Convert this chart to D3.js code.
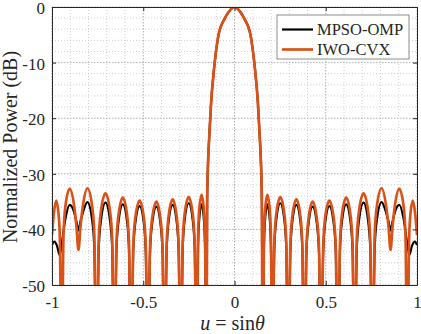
<!DOCTYPE html>
<html><head><meta charset="utf-8">
<script src="https://cdn.jsdelivr.net/npm/d3@7"></script>
<style>
body{margin:0;background:#fff}
svg{display:block}
text{font-family:"Liberation Serif","Times New Roman",serif;fill:#262626}
</style>
</head><body><svg id="c" width="421" height="334"></svg>
<script>
// ---- data ----
const xTicks = [-1, -0.5, 0, 0.5, 1];
const xTickLabels = ["-1", "-0.5", "0", "0.5", "1"];
const yTicks = [0, -10, -20, -30, -40, -50];
const yTickLabels = ["0", "-10", "-20", "-30", "-40", "-50"];
const xMinorTicks = [-0.9, -0.8, -0.7, -0.6, -0.4, -0.3, -0.2, -0.1, 0.1, 0.2, 0.3, 0.4, 0.6, 0.7, 0.8, 0.9];
const yMinorTicks = [-2, -4, -6, -8, -12, -14, -16, -18, -22, -24, -26, -28, -32, -34, -36, -38, -42, -44, -46, -48];
const seriesNames = ["MPSO-OMP", "IWO-CVX"];
const xLabel = "sin";
const yLabel = "Normalized Power (dB)";

// [u, dB]
const mpsoOmp = [
  [-1.000,-42.8],[-0.988,-42.2],[-0.972,-43.0],[-0.958,-44.6],[-0.945,-42.2],[-0.926,-38.0],[-0.903,-35.6],[-0.879,-36.9],[-0.866,-38.6],
  [-0.855,-40.2],[-0.844,-38.6],[-0.830,-36.9],[-0.806,-35.1],[-0.781,-38.1],[-0.768,-43.4],[-0.756,-70],
  [-0.744,-43.5],[-0.731,-38.2],[-0.707,-35.2],[-0.683,-38.2],[-0.670,-43.5],[-0.658,-70],
  [-0.647,-43.8],[-0.635,-38.5],[-0.612,-35.5],[-0.589,-38.5],[-0.578,-43.8],[-0.566,-70],
  [-0.555,-44.1],[-0.543,-38.8],[-0.520,-35.8],[-0.497,-38.8],[-0.486,-44.1],[-0.474,-70],
  [-0.463,-44.2],[-0.451,-38.9],[-0.428,-35.9],[-0.406,-38.9],[-0.394,-44.2],[-0.383,-70],
  [-0.372,-43.9],[-0.361,-38.6],[-0.339,-35.6],[-0.317,-38.6],[-0.306,-43.9],[-0.295,-70],
  [-0.284,-43.6],[-0.273,-38.3],[-0.251,-35.3],[-0.229,-38.3],[-0.218,-43.6],[-0.207,-70],
  [-0.200,-43.8],[-0.194,-38.5],[-0.180,-35.5],[-0.167,-38.5],[-0.161,-43.8],[-0.154,-70],
  [-0.150,-35.0],[-0.146,-29.1],[-0.138,-23.1],[-0.128,-17.1],[-0.112,-11.1],[-0.088,-5.1],[-0.054,-2.1],[-0.032,-0.9],
  [0.000,0.0],
  [0.032,-0.9],[0.054,-2.1],[0.088,-5.1],[0.112,-11.1],[0.128,-17.1],[0.138,-23.1],[0.146,-29.1],[0.150,-35.0],
  [0.154,-70],[0.161,-43.8],[0.167,-38.5],[0.180,-35.5],[0.194,-38.5],[0.200,-43.8],
  [0.207,-70],[0.218,-43.6],[0.229,-38.3],[0.251,-35.3],[0.273,-38.3],[0.284,-43.6],
  [0.295,-70],[0.306,-43.9],[0.317,-38.6],[0.339,-35.6],[0.361,-38.6],[0.372,-43.9],
  [0.383,-70],[0.394,-44.2],[0.406,-38.9],[0.428,-35.9],[0.451,-38.9],[0.463,-44.2],
  [0.474,-70],[0.486,-44.1],[0.497,-38.8],[0.520,-35.8],[0.543,-38.8],[0.555,-44.1],
  [0.566,-70],[0.578,-43.8],[0.589,-38.5],[0.612,-35.5],[0.635,-38.5],[0.647,-43.8],
  [0.658,-70],[0.670,-43.5],[0.683,-38.2],[0.707,-35.2],[0.731,-38.2],[0.744,-43.5],
  [0.756,-70],[0.768,-43.4],[0.781,-38.1],[0.806,-35.1],[0.830,-36.9],[0.844,-38.6],[0.855,-40.2],
  [0.866,-38.6],[0.879,-36.9],[0.903,-35.6],[0.926,-38.0],[0.945,-42.2],[0.958,-44.6],[0.972,-43.0],[0.988,-42.2],[1.000,-42.8]
];

const iwoCvx = [
  [-1.000,-41.0],[-0.990,-37.2],[-0.977,-34.8],[-0.962,-38.0],[-0.956,-43.0],[-0.948,-70],
  [-0.937,-41.0],[-0.926,-35.7],[-0.903,-32.7],[-0.879,-35.7],[-0.866,-39.5],[-0.855,-43.7],
  [-0.844,-39.5],[-0.830,-35.6],[-0.806,-32.6],[-0.781,-35.6],[-0.768,-41.0],[-0.756,-70],
  [-0.744,-41.8],[-0.731,-36.5],[-0.707,-33.5],[-0.683,-36.5],[-0.670,-41.8],[-0.658,-70],
  [-0.647,-42.6],[-0.635,-37.3],[-0.612,-34.3],[-0.589,-37.3],[-0.578,-42.6],[-0.566,-70],
  [-0.555,-43.1],[-0.543,-37.8],[-0.520,-34.8],[-0.497,-37.8],[-0.486,-43.1],[-0.474,-70],
  [-0.463,-43.3],[-0.451,-38.0],[-0.428,-35.0],[-0.406,-38.0],[-0.394,-43.3],[-0.383,-70],
  [-0.372,-42.9],[-0.361,-37.6],[-0.339,-34.6],[-0.317,-37.6],[-0.306,-42.9],[-0.295,-70],
  [-0.284,-42.5],[-0.273,-37.2],[-0.251,-34.2],[-0.229,-37.2],[-0.218,-42.5],[-0.207,-70],
  [-0.200,-42.1],[-0.194,-36.8],[-0.180,-33.8],[-0.167,-36.8],[-0.161,-42.1],[-0.154,-70],
  [-0.150,-35.0],[-0.146,-29.1],[-0.138,-23.1],[-0.128,-17.1],[-0.112,-11.1],[-0.088,-5.1],[-0.054,-2.1],[-0.032,-0.9],
  [0.000,0.0],
  [0.032,-0.9],[0.054,-2.1],[0.088,-5.1],[0.112,-11.1],[0.128,-17.1],[0.138,-23.1],[0.146,-29.1],[0.150,-35.0],
  [0.154,-70],[0.161,-42.1],[0.167,-36.8],[0.180,-33.8],[0.194,-36.8],[0.200,-42.1],
  [0.207,-70],[0.218,-42.5],[0.229,-37.2],[0.251,-34.2],[0.273,-37.2],[0.284,-42.5],
  [0.295,-70],[0.306,-42.9],[0.317,-37.6],[0.339,-34.6],[0.361,-37.6],[0.372,-42.9],
  [0.383,-70],[0.394,-43.3],[0.406,-38.0],[0.428,-35.0],[0.451,-38.0],[0.463,-43.3],
  [0.474,-70],[0.486,-43.1],[0.497,-37.8],[0.520,-34.8],[0.543,-37.8],[0.555,-43.1],
  [0.566,-70],[0.578,-42.6],[0.589,-37.3],[0.612,-34.3],[0.635,-37.3],[0.647,-42.6],
  [0.658,-70],[0.670,-41.8],[0.683,-36.5],[0.707,-33.5],[0.731,-36.5],[0.744,-41.8],
  [0.756,-70],[0.768,-41.0],[0.781,-35.6],[0.806,-32.6],[0.830,-35.6],[0.844,-39.5],
  [0.855,-43.7],[0.866,-39.5],[0.879,-35.7],[0.903,-32.7],[0.926,-35.7],[0.937,-41.0],
  [0.948,-70],[0.956,-43.0],[0.962,-38.0],[0.977,-34.8],[0.990,-37.2],[1.000,-41.0]
];

// ---- drawing ----
const W = 421, H = 334;
const m = {left: 52, right: 4, top: 7, bottom: 49};
const iw = W - m.left - m.right, ih = H - m.top - m.bottom;
const svg = d3.select("#c");
const g = svg.append("g").attr("transform", `translate(${m.left},${m.top})`);
const x = d3.scaleLinear().domain([-1, 1]).range([0, iw]);
const y = d3.scaleLinear().domain([-50, 0]).range([ih, 0]);
const axisColor = "#262626";
const colors = ["#000000", "#D95319"];

g.append("rect").attr("width", iw).attr("height", ih).attr("fill", "#fff");

// minor grid
g.append("g").selectAll("line").data(xMinorTicks).join("line")
  .attr("x1", d => x(d)).attr("x2", d => x(d)).attr("y1", 0).attr("y2", ih)
  .attr("stroke", "#c4c4c4").attr("stroke-width", 0.8).attr("stroke-dasharray", "1,2");
g.append("g").selectAll("line").data(yMinorTicks).join("line")
  .attr("y1", d => y(d)).attr("y2", d => y(d)).attr("x1", 0).attr("x2", iw)
  .attr("stroke", "#c4c4c4").attr("stroke-width", 0.8).attr("stroke-dasharray", "1,2");
// major grid
g.append("g").selectAll("line").data(xTicks).join("line")
  .attr("x1", d => x(d)).attr("x2", d => x(d)).attr("y1", 0).attr("y2", ih)
  .attr("stroke", "#9a9a9a").attr("stroke-width", 0.8).attr("stroke-dasharray", "1.5,1.5");
g.append("g").selectAll("line").data(yTicks).join("line")
  .attr("y1", d => y(d)).attr("y2", d => y(d)).attr("x1", 0).attr("x2", iw)
  .attr("stroke", "#9a9a9a").attr("stroke-width", 0.8).attr("stroke-dasharray", "1.5,1.5");

// lines
svg.append("defs").append("clipPath").attr("id", "clip")
  .append("rect").attr("x", 0).attr("y", 0).attr("width", iw).attr("height", ih);
const line = d3.line().x(d => x(d[0])).y(d => y(d[1])).curve(d3.curveMonotoneX);
const lines = g.append("g").attr("clip-path", "url(#clip)");
lines.append("path").datum(mpsoOmp).attr("d", line).attr("fill", "none")
  .attr("stroke", colors[0]).attr("stroke-width", 2.2).attr("stroke-linejoin", "round");
lines.append("path").datum(iwoCvx).attr("d", line).attr("fill", "none")
  .attr("stroke", colors[1]).attr("stroke-width", 2.7).attr("stroke-linejoin", "round");

// axes
function styleAxis(sel) {
  sel.attr("font-family", null);
  sel.selectAll(".domain").attr("stroke", axisColor).attr("stroke-width", 1);
  sel.selectAll(".tick line").attr("stroke", axisColor).attr("stroke-width", 1);
  sel.selectAll("text").attr("fill", "#262626").attr("font-size", 17)
     .style("font-family", '"Liberation Serif","Times New Roman",serif');
}
g.append("g").attr("transform", `translate(0,${ih})`)
  .call(d3.axisBottom(x).tickValues(xTicks).tickFormat((d, i) => xTickLabels[i]).tickSizeInner(-4).tickSizeOuter(0).tickPadding(11))
  .call(styleAxis);
g.append("g")
  .call(d3.axisTop(x).tickValues(xTicks).tickFormat("").tickSizeInner(-4).tickSizeOuter(0))
  .call(styleAxis);
const yAx = g.append("g")
  .call(d3.axisLeft(y).tickValues(yTicks).tickFormat((d, i) => yTickLabels[i]).tickSizeInner(-4).tickSizeOuter(0).tickPadding(7))
  .call(styleAxis);
yAx.selectAll("text").attr("dy", "0.38em");
g.append("g").attr("transform", `translate(${iw},0)`)
  .call(d3.axisRight(y).tickValues(yTicks).tickFormat("").tickSizeInner(-4).tickSizeOuter(0))
  .call(styleAxis);

// axis titles
const xt = svg.append("text").attr("x", m.left + iw / 2 - 2).attr("y", 330)
  .attr("text-anchor", "middle").attr("font-size", 20);
xt.append("tspan").attr("font-style", "italic").text("u");
xt.append("tspan").text(" = " + xLabel);
xt.append("tspan").attr("font-style", "italic").text("θ");

svg.append("text").attr("transform", `translate(17,${m.top + ih / 2 + 1}) rotate(-90)`)
  .attr("text-anchor", "middle").attr("font-size", 20).text(yLabel);

// legend
const lg = svg.append("g").attr("transform", "translate(277,15)");
lg.append("rect").attr("width", 132).attr("height", 44).attr("fill", "#fff")
  .attr("stroke", "#8c8c8c").attr("stroke-width", 1);
seriesNames.forEach((name, i) => {
  const yy = 14.5 + i * 20;
  lg.append("line").attr("x1", 5).attr("x2", 36).attr("y1", yy).attr("y2", yy)
    .attr("stroke", colors[i]).attr("stroke-width", i ? 2.7 : 2.2);
  lg.append("text").attr("x", 40).attr("y", yy).attr("dy", "0.35em")
    .attr("font-size", 16.5).text(name);
});
</script>
</body></html>
